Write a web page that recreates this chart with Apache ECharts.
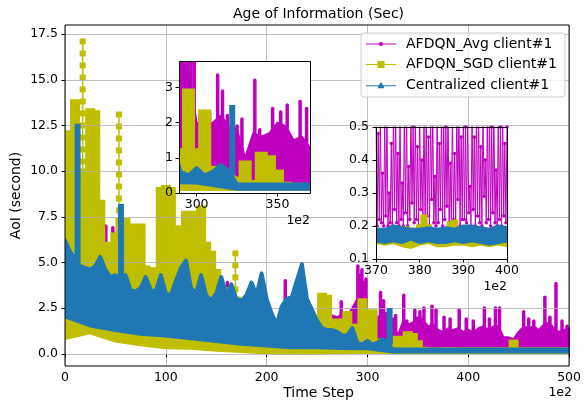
<!DOCTYPE html>
<html><head><meta charset="utf-8">
<script src="https://cdn.jsdelivr.net/npm/echarts@6/dist/echarts.min.js"></script>
<style>html,body{margin:0;padding:0;background:#fff}#c{width:584px;height:405px}</style>
</head><body><div id="c"></div>
<script>
const FONT = 'DejaVu Sans';
const C_AVG = '#bf00bf', C_SGD = '#bfbf00', C_CEN = '#1f77b4';
const seriesNames = ['AFDQN_Avg client#1', 'AFDQN_SGD client#1', 'Centralized client#1'];
const titleText = 'Age of Information (Sec)';
const xLabel = 'Time Step', yLabel = 'AoI (second)', offsetText = '1e2';

// tick values
const mainYTicks = [0, 2.5, 5, 7.5, 10, 12.5, 15, 17.5];
const inset1XTicks = [300, 350];
const inset1YTicks = [0, 1, 2, 3];
const inset2YTicks = [0.1, 0.2, 0.3, 0.4, 0.5];

// ---- main data (x in units of 1e2 time steps), envelope ----
const HI_STEP = 5, LO_STEP = 25;
const avgHi = [
 2.5,2.5,2.5,2.5,2.5,2.5,2.5,2.5,2.5,2.5,
 2.5,2.5,2.5,2.5,2.5,2.5,2.5,2.5,2.5,2.5,
 2.5,2.5,2.5,2.5,2.5,2.5,2.5,2.5,2.5,2.5,
 2.5,2.5,2.5,2.5,2.5,2.5,2.5,2.5,2.5,2.5,
 2.0,1.5,1.4,1.4,1.5,1.5,1.5,1.5,2.2,2.0,
 1.9,2.0,2.0,2.1,2.0,2.2,2.1,2.5,3.0,3.5,
 2.0,1.8,2.0,2.2,1.9,1.8,1.0,1.7,1.6,1.7,
 2.0,1.9,1.5,1.6,1.3,1.2,1.4,1.3,1.4,1.2,
 1.3,1.2,1.4,1.5,1.3,1.5,1.5,0.9,0.9,0.8,
 1.2,1.5,1.4,1.5,1.3,1.6,1.7,1.4,1.2,1.3,
 1.4];
const avgLo = [1.3,1.5,1.3,1.0,0.6,0.5,0.4,0.3,0.25,0.25,0.2,0.2,0.2,0.2,0.2,0.2,0.2,0.2,0.2,0.2,0.2];
const avgSpikes = [
 [40.5,3.0,7.0],[47.5,3.0,6.9],[161,0.4,3.9],[163.5,0.4,3.4],[190,0.4,3.1],[199,0.4,3.1],
 [218.5,0.4,4.0],[228,0.4,2.8],[274,0.4,2.85],[290.5,0.4,4.8],[292.5,0.4,4.3],[294.5,0.4,4.6],
 [296.5,0.4,3.9],[298.5,0.4,4.1],[302,0.4,2.2],[308,0.4,2.3],[313,0.4,3.35],[316,0.4,2.9],
 [319,0.4,2.2],[325,0.4,1.9],[328,0.4,2.1],[336,0.4,3.2],[339,0.4,1.8],[347,0.4,2.4],
 [352,0.4,2.3],[356,0.4,2.5],[364,0.4,2.6],[368,0.4,2.4],[376,0.4,2.0],[382,0.4,1.9],
 [391,0.4,2.4],[398,0.4,1.9],[405,0.4,1.8],[416,0.4,2.5],[421,0.4,1.9],[427,0.4,2.5],
 [431,0.4,2.5],[455,0.4,2.3],[460,0.4,1.9],[465,0.4,1.8],[476,0.4,3.1],[481,0.4,2.0],
 [487,0.4,3.85],[493,0.4,1.8],[498,0.4,1.5]];

const sgdHi = [
 11.6,12.1,13.8,10.0,10.0,13.3,13.2,8.3,6.0,5.8,
 6.5,7.3,7.3,7.0,6.8,7.0,4.7,4.6,4.6,9.0,
 9.1,9.0,6.5,6.9,7.7,7.7,7.0,8.0,6.0,5.5,
 4.5,3.5,3.3,3.5,3.0,2.8,2.5,2.6,2.2,2.4,
 2.0,1.8,1.6,1.5,1.8,1.8,2.0,2.0,2.0,2.0,
 1.6,3.2,3.1,1.8,1.8,1.2,2.2,1.5,1.2,2.9,
 1.2,2.3,0.7,0.65,0.45,0.4,0.85,0.3,1.1,1.0,
 0.6,0.25,0.22,0.22,0.22,0.22,0.23,0.22,0.22,0.22,
 0.22,0.22,0.22,0.22,0.22,0.22,0.22,0.22,0.22,0.65,
 0.22,0.22,0.22,0.22,0.22,0.22,0.22,0.22,0.22,0.22,
 0.22];
const sgdLo = [0.9,1.2,0.75,0.55,0.38,0.35,0.25,0.18,0.1,0.07,0.1,0.12,0.13,0.13,0.13,0.13,0.13,0.13,0.13,0.13,0.13];
const sgdSpikes = [[17.5,9.0,17.1],[53.5,7.0,13.1],[169,3.0,5.5]];

const cenHi = [
 6.2,5.6,5.2,4.8,4.7,4.6,4.8,5.3,4.6,4.2,
 4.3,4.0,4.3,3.5,3.4,3.6,4.2,3.5,3.4,4.3,
 3.3,3.2,4.0,4.7,5.1,3.6,3.3,4.3,3.2,2.9,
 3.3,4.2,3.2,3.8,3.0,2.9,3.2,3.9,3.2,4.4,
 3.0,2.2,1.6,2.6,3.0,3.1,4.0,4.9,3.0,2.4,
 1.8,1.4,1.3,1.3,1.2,1.0,1.0,1.4,0.6,0.5,
 0.7,0.5,0.6,0.8,0.6,0.24,0.24,0.24,0.24,0.24,
 0.24,0.24,0.24,0.24,0.24,0.24,0.24,0.24,0.24,0.24,
 0.24,0.24,0.24,0.24,0.24,0.24,0.24,0.24,0.24,0.24,
 0.24,0.24,0.24,0.24,0.24,0.24,0.24,0.24,0.24,0.24,
 0.24];
const cenLo = [2.05,1.55,1.3,1.1,1.0,0.85,0.7,0.55,0.45,0.35,0.35,0.32,0.3,0.12,0.12,0.12,0.12,0.12,0.12,0.12,0.12];
const cenSpikes = [[12.5,5.0,12.6],[55.5,4.0,8.2],[322,0.5,2.5]];

// ---- zoomed detail, 370..400 ----
const AVG2_X0 = 370, AVG2_STEP = 0.25;
const avg2 = [
 0.55,0.2,0.48,0.22,0.55,0.21,0.36,0.2,
 0.52,0.23,0.55,0.2,0.3,0.21,0.45,0.2,
 0.55,0.25,0.55,0.21,0.42,0.2,0.55,0.22,
 0.33,0.2,0.55,0.24,0.55,0.2,0.38,0.22,
 0.55,0.27,0.5,0.21,0.55,0.22,0.44,0.2,
 0.55,0.25,0.4,0.22,0.55,0.2,0.55,0.23,
 0.47,0.2,0.55,0.28,0.55,0.21,0.35,0.2,
 0.55,0.21,0.45,0.25,0.55,0.2,0.55,0.22,
 0.5,0.26,0.55,0.2,0.39,0.21,0.55,0.22,
 0.42,0.21,0.55,0.28,0.55,0.2,0.47,0.22,
 0.55,0.22,0.5,0.21,0.55,0.24,0.32,0.2,
 0.55,0.25,0.47,0.2,0.55,0.23,0.55,0.21,
 0.44,0.2,0.55,0.29,0.4,0.21,0.55,0.22,
 0.55,0.2,0.5,0.24,0.55,0.21,0.37,0.2,
 0.55,0.22,0.5,0.2,0.55,0.23,0.45,0.21,
 0.5];
const sgdHi2 = [0.19,0.185,0.17,0.17,0.165,0.17,0.17,0.195,0.19,0.17,0.2,0.23,0.2,0.17,0.17,0.17,
 0.175,0.21,0.215,0.175,0.17,0.17,0.17,0.17,0.17,0.17,0.17,0.17,0.17,0.17,0.17];
const sgdLo2 = [0.15,0.145,0.15,0.14,0.135,0.145,0.15,0.14,0.14,0.145,0.145,0.14,0.145,0.14,0.145,0.14];
const cenHi2 = [0.19,0.19,0.2,0.195,0.19,0.19,0.195,0.19,0.195,0.19,0.2,0.2,0.195,0.19,0.2,0.195];
const cenLo2 = [0.155,0.15,0.155,0.15,0.16,0.15,0.155,0.15,0.15,0.155,0.15,0.155,0.15,0.145,0.15,0.155];

// ---- layout ----
const G_MAIN = {left: 65, top: 25, width: 507, height: 341};
const G_IN1 = {left: 179, top: 61, width: 131, height: 132};
const G_IN2 = {left: 376, top: 127, width: 131, height: 132};

function bandSeries(o) {
  return {
    type: 'custom', xAxisIndex: o.xi, yAxisIndex: o.yi, z: o.z, clip: true, silent: true,
    data: [[o.hiX0, 0]],
    renderItem: function (params, api) {
      const pts = [];
      o.hi.forEach(function (v, i) {
        const x = o.hiX0 + i * o.hiStep;
        if (o.stepped) { pts.push(api.coord([x - o.hiStep / 2, v])); pts.push(api.coord([x + o.hiStep / 2, v])); }
        else pts.push(api.coord([x, v]));
      });
      for (let i = o.lo.length - 1; i >= 0; i--) pts.push(api.coord([o.loX0 + i * o.loStep, o.lo[i]]));
      return {type: 'polygon', shape: {points: pts},
        style: {fill: o.color, stroke: o.color, lineWidth: o.lw, lineJoin: o.stepped ? 'miter' : 'round'}};
    }
  };
}
function spikeSeries(spikes, color, kind, xi, yi, z) {
  return {
    type: 'custom', xAxisIndex: xi, yAxisIndex: yi, z: z, clip: true, silent: true,
    data: spikes,
    renderItem: function (params, api) {
      const t = api.coord([api.value(0), api.value(2)]);
      const b = api.coord([api.value(0), api.value(1)]);
      const ch = [];
      if (kind === 'square') {
        ch.push({type: 'line', shape: {x1: t[0], y1: t[1], x2: b[0], y2: b[1]}, style: {stroke: color, lineWidth: 1.5}});
        ch.push({type: 'line', shape: {x1: t[0], y1: t[1] - 3, x2: b[0], y2: b[1]}, style: {stroke: color, lineWidth: 6, lineDash: [6, 6]}});
      } else if (kind === 'tri') {
        ch.push({type: 'line', shape: {x1: t[0], y1: t[1], x2: b[0], y2: b[1]}, style: {stroke: color, lineWidth: 6}});
      } else {
        ch.push({type: 'line', shape: {x1: t[0], y1: t[1], x2: b[0], y2: b[1]}, style: {stroke: color, lineWidth: 3.5, lineCap: 'round'}});
      }
      return {type: 'group', children: ch};
    }
  };
}
function seriesSet(xi, yi, zBase) {
  return [
    bandSeries({hi: avgHi, hiX0: 0, hiStep: HI_STEP, lo: avgLo, loX0: 0, loStep: LO_STEP, stepped: false, color: C_AVG, lw: 2, xi, yi, z: zBase}),
    spikeSeries(avgSpikes, C_AVG, 'dot', xi, yi, zBase),
    bandSeries({hi: sgdHi, hiX0: 0, hiStep: HI_STEP, lo: sgdLo, loX0: 0, loStep: LO_STEP, stepped: true, color: C_SGD, lw: 5, xi, yi, z: zBase + 1}),
    spikeSeries(sgdSpikes, C_SGD, 'square', xi, yi, zBase + 1),
    bandSeries({hi: cenHi, hiX0: 0, hiStep: HI_STEP, lo: cenLo, loX0: 0, loStep: LO_STEP, stepped: false, color: C_CEN, lw: 4, xi, yi, z: zBase + 2}),
    spikeSeries(cenSpikes, C_CEN, 'tri', xi, yi, zBase + 2)
  ];
}

const tickStyle = {show: true, inside: false, length: 3.5, lineStyle: {color: '#000', width: 1}};
const labelBase = {color: '#000', fontSize: 12.5, fontFamily: FONT};

const option = {
  animation: false,
  backgroundColor: '#fff',
  grid: [
    Object.assign({show: true, borderColor: '#000', borderWidth: 1, backgroundColor: 'transparent', z: 10}, G_MAIN),
    Object.assign({show: true, borderWidth: 0, backgroundColor: '#fff', z: 20}, G_IN1),
    Object.assign({show: true, borderWidth: 0, backgroundColor: '#fff', z: 20}, G_IN2)
  ],
  xAxis: [
    {type: 'value', gridIndex: 0, min: 0, max: 500, interval: 100, axisLine: {show: false},
     axisTick: tickStyle, axisLabel: Object.assign({margin: 5}, labelBase),
     splitLine: {show: true, lineStyle: {color: '#b0b0b0', width: 0.8}}},
    {type: 'value', gridIndex: 1, min: 289.1, max: 370.1, z: 25, axisLine: {show: false},
     axisTick: Object.assign({customValues: inset1XTicks}, tickStyle),
     axisLabel: Object.assign({margin: 5, customValues: inset1XTicks}, labelBase), splitLine: {show: false}},
    {type: 'value', gridIndex: 2, min: 370, max: 400, interval: 10, z: 25, axisLine: {show: false},
     axisTick: tickStyle, axisLabel: Object.assign({margin: 5}, labelBase), splitLine: {show: false}}
  ],
  yAxis: [
    {type: 'value', gridIndex: 0, min: -0.67, max: 18.0, axisLine: {show: false},
     axisTick: Object.assign({customValues: mainYTicks}, tickStyle),
     axisLabel: Object.assign({margin: 7, customValues: mainYTicks, formatter: v => v.toFixed(1)}, labelBase),
     splitLine: {show: false}},
    {type: 'value', gridIndex: 1, min: 0, max: 3.75, z: 25, axisLine: {show: false},
     axisTick: Object.assign({customValues: inset1YTicks}, tickStyle),
     axisLabel: Object.assign({margin: 6, customValues: inset1YTicks, formatter: v => String(Math.round(v))}, labelBase),
     splitLine: {show: false}},
    {type: 'value', gridIndex: 2, min: 0.1, max: 0.5, z: 25, axisLine: {show: false},
     axisTick: Object.assign({customValues: inset2YTicks}, tickStyle),
     axisLabel: Object.assign({margin: 7, customValues: inset2YTicks, formatter: v => v.toFixed(1)}, labelBase),
     splitLine: {show: false}}
  ],
  legend: {
    orient: 'vertical', left: 361, top: 33, itemWidth: 30, itemHeight: 14, itemGap: 6.5,
    padding: [4, 8, 5, 5], borderColor: '#cccccc', borderWidth: 1, borderRadius: 3,
    backgroundColor: 'rgba(255,255,255,0.8)', selectedMode: false, z: 30,
    itemStyle: {borderWidth: 0},
    textStyle: {fontFamily: FONT, fontSize: 14, color: '#000', lineHeight: 14, padding: [0, 0, 0, 5]},
    data: [
      {name: seriesNames[0], icon: 'path://M0,1.5h30v1h-30z M17,2a2,2 0 1,1 -4,0a2,2 0 1,1 4,0z'},
      {name: seriesNames[1], icon: 'path://M0,3h30v1h-30z M11.5,0h7v7h-7z'},
      {name: seriesNames[2], icon: 'path://M0,3.6h30v1h-30z M15,0L18.6,6.5L11.4,6.5z'}
    ]
  },
  graphic: [
    {type: 'text', x: 318.5, y: 14, z: 100, style: {text: titleText, fontSize: 14, fontFamily: FONT, fill: '#000', align: 'center', verticalAlign: 'middle'}},
    {type: 'text', x: 318.5, y: 393, z: 100, style: {text: xLabel, fontSize: 14, fontFamily: FONT, fill: '#000', align: 'center', verticalAlign: 'middle'}},
    {type: 'text', x: 16.5, y: 195.5, rotation: Math.PI / 2, z: 100, style: {text: yLabel, fontSize: 14, fontFamily: FONT, fill: '#000', align: 'center', verticalAlign: 'middle'}},
    {type: 'text', x: 572, y: 393, z: 100, style: {text: offsetText, fontSize: 12.5, fontFamily: FONT, fill: '#000', align: 'right', verticalAlign: 'middle'}},
    {type: 'text', x: 310, y: 221, z: 100, style: {text: offsetText, fontSize: 12.5, fontFamily: FONT, fill: '#000', align: 'right', verticalAlign: 'middle'}},
    {type: 'text', x: 507, y: 287, z: 100, style: {text: offsetText, fontSize: 12.5, fontFamily: FONT, fill: '#000', align: 'right', verticalAlign: 'middle'}},
    {type: 'rect', z: 60, silent: true, shape: {x: G_IN1.left + 0.5, y: G_IN1.top + 0.5, width: G_IN1.width, height: G_IN1.height}, style: {fill: 'none', stroke: '#000', lineWidth: 1}},
    {type: 'rect', z: 60, silent: true, shape: {x: G_IN2.left + 0.5, y: G_IN2.top + 0.5, width: G_IN2.width, height: G_IN2.height}, style: {fill: 'none', stroke: '#000', lineWidth: 1}}
  ],
  series: [].concat(
    [{type: 'line', name: '_grid', xAxisIndex: 0, yAxisIndex: 0, data: [], z: 1, silent: true,
      markLine: {silent: true, symbol: ['none', 'none'], label: {show: false}, animation: false,
        lineStyle: {color: '#b0b0b0', width: 0.8, type: 'solid'}, emphasis: {disabled: true},
        data: mainYTicks.map(v => ({yAxis: v}))}}],
    seriesSet(0, 0, 3),
    seriesSet(1, 1, 21),
    [
      {type: 'line', xAxisIndex: 2, yAxisIndex: 2, z: 21, silent: true, clip: true,
       data: avg2.map((v, i) => [AVG2_X0 + i * AVG2_STEP, v]),
       symbol: 'circle', symbolSize: 3.5, showSymbol: true, color: C_AVG, lineStyle: {width: 1, color: C_AVG}, itemStyle: {color: C_AVG}},
      bandSeries({hi: sgdHi2, hiX0: 370, hiStep: 1, lo: sgdLo2, loX0: 370, loStep: 2, stepped: true, color: C_SGD, lw: 3, xi: 2, yi: 2, z: 22}),
      bandSeries({hi: cenHi2, hiX0: 370, hiStep: 2, lo: cenLo2, loX0: 370, loStep: 2, stepped: false, color: C_CEN, lw: 3, xi: 2, yi: 2, z: 23})
    ],
    [
      {type: 'line', name: seriesNames[0], data: [], xAxisIndex: 0, yAxisIndex: 0, color: C_AVG, itemStyle: {color: C_AVG}, symbol: 'none'},
      {type: 'line', name: seriesNames[1], data: [], xAxisIndex: 0, yAxisIndex: 0, color: C_SGD, itemStyle: {color: C_SGD}, symbol: 'none'},
      {type: 'line', name: seriesNames[2], data: [], xAxisIndex: 0, yAxisIndex: 0, color: C_CEN, itemStyle: {color: C_CEN}, symbol: 'none'}
    ]
  )
};
const chart = echarts.init(document.getElementById('c'), null, {renderer: 'canvas'});
chart.setOption(option);
</script></body></html>
